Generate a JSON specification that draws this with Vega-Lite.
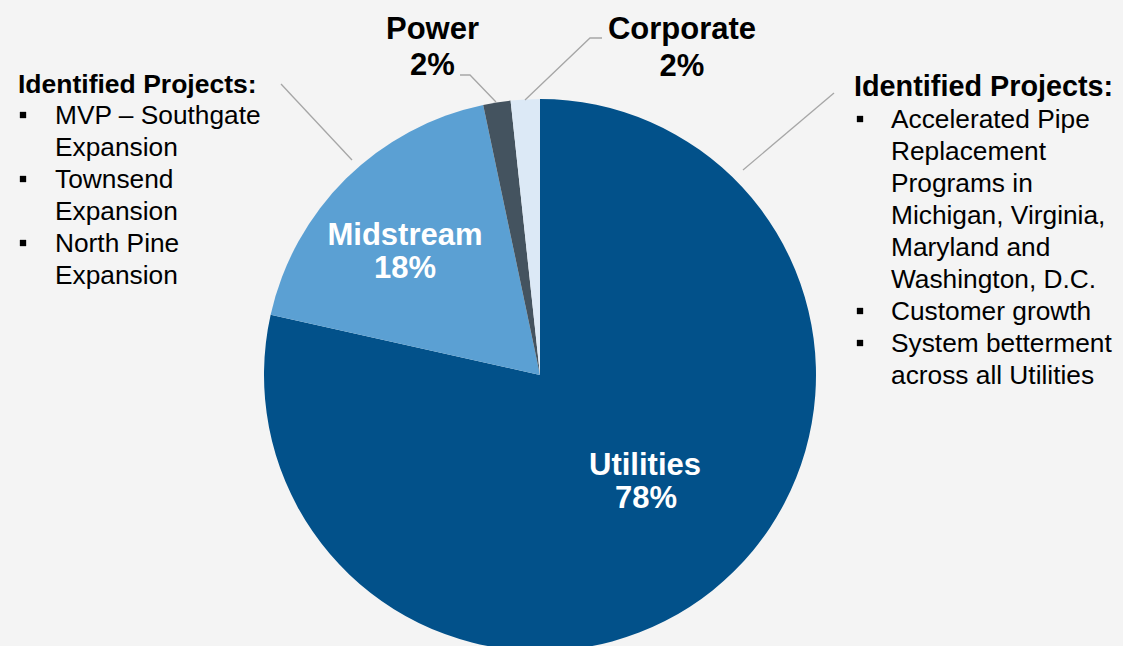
{
  "$schema": "https://vega.github.io/schema/vega-lite/v6.json",
  "width": 1123,
  "height": 646,
  "autosize": {"type": "none"},
  "padding": 0,
  "background": "#f4f4f4",
  "config": {"view": {"stroke": null}, "font": "Liberation Sans"},
  "datasets": {
    "segments": [
      {"segment": "Utilities", "share": 78.5, "seq": 1},
      {"segment": "Midstream", "share": 18.2, "seq": 2},
      {"segment": "Power", "share": 1.6, "seq": 3},
      {"segment": "Corporate", "share": 1.7, "seq": 4}
    ],
    "annotations": [
      {"role": "inner", "x": 405, "y": 245, "text": "Midstream"},
      {"role": "inner", "x": 405, "y": 278, "text": "18%"},
      {"role": "inner", "x": 645, "y": 475, "text": "Utilities"},
      {"role": "inner", "x": 646, "y": 508, "text": "78%"},
      {"role": "outer", "x": 432.5, "y": 39, "text": "Power"},
      {"role": "outer", "x": 432.5, "y": 75, "text": "2%"},
      {"role": "outer", "x": 682, "y": 39, "text": "Corporate"},
      {"role": "outer", "x": 682, "y": 76, "text": "2%"},
      {"role": "heading", "side": "left", "x": 18, "y": 93, "text": "Identified Projects:"},
      {"role": "item", "x": 55, "y": 124, "text": "MVP – Southgate"},
      {"role": "item", "x": 55, "y": 156, "text": "Expansion"},
      {"role": "item", "x": 55, "y": 188, "text": "Townsend"},
      {"role": "item", "x": 55, "y": 220, "text": "Expansion"},
      {"role": "item", "x": 55, "y": 252, "text": "North Pine"},
      {"role": "item", "x": 55, "y": 284, "text": "Expansion"},
      {"role": "heading", "side": "right", "x": 854, "y": 96, "text": "Identified Projects:"},
      {"role": "item", "x": 891, "y": 128, "text": "Accelerated Pipe"},
      {"role": "item", "x": 891, "y": 160, "text": "Replacement"},
      {"role": "item", "x": 891, "y": 192, "text": "Programs in"},
      {"role": "item", "x": 891, "y": 224, "text": "Michigan, Virginia,"},
      {"role": "item", "x": 891, "y": 256, "text": "Maryland and"},
      {"role": "item", "x": 891, "y": 288, "text": "Washington, D.C."},
      {"role": "item", "x": 891, "y": 320, "text": "Customer growth"},
      {"role": "item", "x": 891, "y": 352, "text": "System betterment"},
      {"role": "item", "x": 891, "y": 384, "text": "across all Utilities"}
    ],
    "bullets": [
      {"x": 23, "y": 115},
      {"x": 23, "y": 179},
      {"x": 23, "y": 243},
      {"x": 860, "y": 119},
      {"x": 860, "y": 311},
      {"x": 860, "y": 343}
    ],
    "leaders": [
      {"leader": "left", "step": 1, "x": 281, "y": 84},
      {"leader": "left", "step": 2, "x": 352, "y": 160},
      {"leader": "right", "step": 1, "x": 834, "y": 93},
      {"leader": "right", "step": 2, "x": 743, "y": 170},
      {"leader": "power", "step": 1, "x": 460, "y": 75},
      {"leader": "power", "step": 2, "x": 470, "y": 75},
      {"leader": "power", "step": 3, "x": 496, "y": 102},
      {"leader": "corporate", "step": 1, "x": 602, "y": 38},
      {"leader": "corporate", "step": 2, "x": 590, "y": 38},
      {"leader": "corporate", "step": 3, "x": 525, "y": 100}
    ]
  },
  "layer": [
    {
      "data": {"name": "segments"},
      "mark": {"type": "arc", "outerRadius": 276},
      "encoding": {
        "x": {"datum": 540, "type": "quantitative", "scale": {"domain": [0, 1123], "nice": false, "zero": false}, "axis": null},
        "y": {"datum": 375, "type": "quantitative", "scale": {"domain": [0, 646], "nice": false, "zero": false, "reverse": true}, "axis": null},
        "theta": {"field": "share", "type": "quantitative", "stack": true},
        "order": {"field": "seq", "type": "quantitative"},
        "color": {
          "field": "segment",
          "type": "nominal",
          "scale": {"domain": ["Utilities", "Midstream", "Power", "Corporate"], "range": ["#02518a", "#5ba0d3", "#44535f", "#dce9f6"]},
          "legend": null
        }
      }
    },
    {
      "data": {"name": "leaders"},
      "mark": {"type": "line", "color": "#a6a6a6", "strokeWidth": 1.3, "interpolate": "linear"},
      "encoding": {
        "x": {"field": "x", "type": "quantitative", "scale": {"domain": [0, 1123], "nice": false, "zero": false}, "axis": null},
        "y": {"field": "y", "type": "quantitative", "scale": {"domain": [0, 646], "nice": false, "zero": false, "reverse": true}, "axis": null},
        "detail": {"field": "leader", "type": "nominal"},
        "order": {"field": "step", "type": "quantitative"}
      }
    },
    {
      "data": {"name": "bullets"},
      "mark": {"type": "square", "color": "#000000", "opacity": 1, "size": 40, "filled": true},
      "encoding": {
        "x": {"field": "x", "type": "quantitative", "scale": {"domain": [0, 1123], "nice": false, "zero": false}, "axis": null},
        "y": {"field": "y", "type": "quantitative", "scale": {"domain": [0, 646], "nice": false, "zero": false, "reverse": true}, "axis": null}
      }
    },
    {
      "data": {"name": "annotations"},
      "transform": [{"filter": "datum.role === 'inner'"}],
      "mark": {"type": "text", "font": "Liberation Sans", "fontWeight": "bold", "fontSize": 31, "color": "#ffffff", "align": "center", "baseline": "alphabetic"},
      "encoding": {
        "x": {"field": "x", "type": "quantitative", "scale": {"domain": [0, 1123], "nice": false, "zero": false}, "axis": null},
        "y": {"field": "y", "type": "quantitative", "scale": {"domain": [0, 646], "nice": false, "zero": false, "reverse": true}, "axis": null},
        "text": {"field": "text"}
      }
    },
    {
      "data": {"name": "annotations"},
      "transform": [{"filter": "datum.role === 'outer'"}],
      "mark": {"type": "text", "font": "Liberation Sans", "fontWeight": "bold", "fontSize": 31, "color": "#000000", "align": "center", "baseline": "alphabetic"},
      "encoding": {
        "x": {"field": "x", "type": "quantitative", "scale": {"domain": [0, 1123], "nice": false, "zero": false}, "axis": null},
        "y": {"field": "y", "type": "quantitative", "scale": {"domain": [0, 646], "nice": false, "zero": false, "reverse": true}, "axis": null},
        "text": {"field": "text"}
      }
    },
    {
      "data": {"name": "annotations"},
      "transform": [{"filter": "datum.role === 'heading' && datum.side === 'left'"}],
      "mark": {"type": "text", "font": "Liberation Sans", "fontWeight": "bold", "fontSize": 26.5, "color": "#000000", "align": "left", "baseline": "alphabetic"},
      "encoding": {
        "x": {"field": "x", "type": "quantitative", "scale": {"domain": [0, 1123], "nice": false, "zero": false}, "axis": null},
        "y": {"field": "y", "type": "quantitative", "scale": {"domain": [0, 646], "nice": false, "zero": false, "reverse": true}, "axis": null},
        "text": {"field": "text"}
      }
    },
    {
      "data": {"name": "annotations"},
      "transform": [{"filter": "datum.role === 'heading' && datum.side === 'right'"}],
      "mark": {"type": "text", "font": "Liberation Sans", "fontWeight": "bold", "fontSize": 28.8, "color": "#000000", "align": "left", "baseline": "alphabetic"},
      "encoding": {
        "x": {"field": "x", "type": "quantitative", "scale": {"domain": [0, 1123], "nice": false, "zero": false}, "axis": null},
        "y": {"field": "y", "type": "quantitative", "scale": {"domain": [0, 646], "nice": false, "zero": false, "reverse": true}, "axis": null},
        "text": {"field": "text"}
      }
    },
    {
      "data": {"name": "annotations"},
      "transform": [{"filter": "datum.role === 'item'"}],
      "mark": {"type": "text", "font": "Liberation Sans", "fontWeight": "normal", "fontSize": 26.3, "color": "#000000", "align": "left", "baseline": "alphabetic"},
      "encoding": {
        "x": {"field": "x", "type": "quantitative", "scale": {"domain": [0, 1123], "nice": false, "zero": false}, "axis": null},
        "y": {"field": "y", "type": "quantitative", "scale": {"domain": [0, 646], "nice": false, "zero": false, "reverse": true}, "axis": null},
        "text": {"field": "text"}
      }
    }
  ]
}
